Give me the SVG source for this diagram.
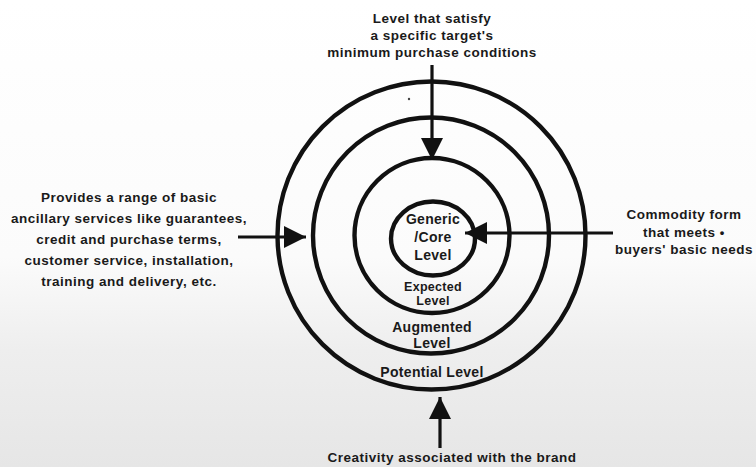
<svg xmlns="http://www.w3.org/2000/svg" width="756" height="467" viewBox="0 0 756 467">
  <defs>
    <linearGradient id="bg" x1="0" y1="0" x2="0" y2="1">
      <stop offset="0" stop-color="#ffffff"/>
      <stop offset="0.55" stop-color="#fbfbfb"/>
      <stop offset="0.75" stop-color="#eeeeee"/>
      <stop offset="1" stop-color="#e6e6e6"/>
    </linearGradient>
    <marker id="arrow" viewBox="0 0 10 10" refX="10" refY="5" markerWidth="7" markerHeight="7" markerUnits="strokeWidth" orient="auto">
      <path d="M0,0 L10,5 L0,10 Z" fill="#111"/>
    </marker>
  </defs>
  <style>
    .ring { fill: none; stroke: #111; stroke-width: 4.4; }
    .conn { stroke: #111; stroke-width: 3.2; fill: none; marker-end: url(#arrow); }
    text { font-family: "Liberation Sans", Arial, sans-serif; font-weight: bold; fill: #1a1a1a; text-anchor: middle; }
    .lbl { font-size: 13.5px; letter-spacing: 0.5px; }
    .lvl { font-size: 14px; letter-spacing: 0.3px; }
    .lvs { font-size: 12.5px; letter-spacing: 0.3px; }
  </style>
  <rect x="0" y="0" width="756" height="467" fill="url(#bg)"/>

  <g id="potential-level">
    <circle class="ring" cx="431.5" cy="235.5" r="154"/>
    <text class="lvl" x="432" y="377">Potential Level</text>
  </g>
  <g id="augmented-level">
    <circle class="ring" cx="431" cy="235.5" r="118"/>
    <text class="lvl" x="432" y="332">Augmented</text>
    <text class="lvl" x="432" y="348">Level</text>
  </g>
  <g id="expected-level">
    <circle class="ring" cx="432" cy="235.5" r="77.5"/>
    <text class="lvs" x="433" y="291">Expected</text>
    <text class="lvs" x="433" y="305">Level</text>
  </g>
  <g id="core-level">
    <ellipse class="ring" cx="433" cy="238.5" rx="42" ry="37"/>
    <text class="lvl" x="433" y="224">Generic</text>
    <text class="lvl" x="433" y="242">/Core</text>
    <text class="lvl" x="433" y="260">Level</text>
  </g>

  <g id="note-top">
    <text class="lbl" x="432" y="23">Level that satisfy</text>
    <text class="lbl" x="432" y="40">a specific target's</text>
    <text class="lbl" x="432" y="57">minimum purchase conditions</text>
  </g>
  <g id="note-left">
    <text class="lbl" x="129" y="202">Provides a range of basic</text>
    <text class="lbl" x="129" y="223">ancillary services like guarantees,</text>
    <text class="lbl" x="129" y="244">credit and purchase terms,</text>
    <text class="lbl" x="129" y="265">customer service, installation,</text>
    <text class="lbl" x="129" y="286">training and delivery, etc.</text>
  </g>
  <g id="note-right">
    <text class="lbl" x="684" y="219">Commodity form</text>
    <text class="lbl" x="684" y="237">that meets <tspan font-size="13">•</tspan></text>
    <text class="lbl" x="684" y="254">buyers' basic needs</text>
  </g>
  <g id="note-bottom">
    <text class="lbl" x="452" y="462">Creativity associated with the brand</text>
  </g>

  <g id="connectors">
    <line class="conn" x1="432" y1="65" x2="432" y2="160"/>
    <line class="conn" x1="238" y1="237" x2="306" y2="237"/>
    <line class="conn" x1="613" y1="233" x2="465" y2="233"/>
    <line class="conn" x1="440" y1="448" x2="440" y2="397"/>
  </g>
  <circle cx="409" cy="99" r="1.2" fill="#444"/>
</svg>
